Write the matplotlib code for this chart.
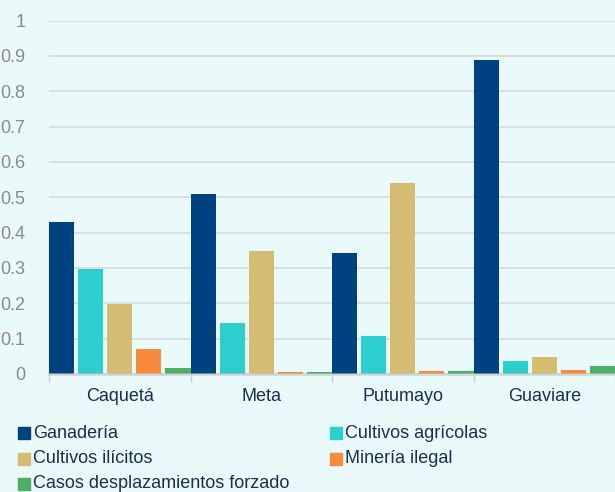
import numpy as np
import matplotlib
matplotlib.use('Agg')
import matplotlib.pyplot as plt
from matplotlib import patches

regiones = ['Caquetá', 'Meta', 'Putumayo', 'Guaviare']
series = ['Ganadería', 'Cultivos agrícolas', 'Cultivos ilícitos',
          'Minería ilegal', 'Casos desplazamientos forzado']

ganaderia = [0.43, 0.51, 0.343, 0.889]
cultivos_agricolas = [0.297, 0.145, 0.107, 0.036]
cultivos_ilicitos = [0.198, 0.348, 0.541, 0.049]
mineria_ilegal = [0.071, 0.006, 0.009, 0.012]
desplazamientos = [0.016, 0.006, 0.009, 0.022]

valores = [ganaderia, cultivos_agricolas, cultivos_ilicitos,
           mineria_ilegal, desplazamientos]
colores = ['#00427F', '#2DCECE', '#D5BC73', '#F68B3D', '#4DAE65']

bg = '#EAF9FA'
plt.rcParams['font.family'] = ['Liberation Sans', 'DejaVu Sans']

W, H, dpi = 615, 492, 100.0
fig = plt.figure(figsize=(W/dpi, H/dpi), dpi=dpi, facecolor=bg)
ax = fig.add_axes([49/W, 1-374/H, 1-49/W, (374-20.5)/H])
ax.set_facecolor(bg)

x = np.arange(len(regiones))
paso, ancho = 0.205, 0.18
for k, (vals, col) in enumerate(zip(valores, colores)):
    ax.bar(x + k*paso, vals, width=ancho, align='edge', color=col,
           zorder=2)

ax.set_xlim(0, len(regiones))
ax.set_ylim(0, 1)
ax.set_yticks(np.arange(0, 1.01, 0.1))
ax.set_yticklabels(['0'] + ['%.1f' % v for v in np.arange(0.1, 0.95, 0.1)] + ['1'])
ax.yaxis.grid(True, color='#D8DCDC', linewidth=1.3, zorder=1)
ax.tick_params(axis='y', length=0, pad=17, labelsize=13, labelcolor='#8A8A8A')

# category boundaries as ticks, labels in the middle
ax.set_xticks(np.arange(0, len(regiones)+1))
ax.set_xticklabels([])
ax.set_xticks(x + 0.5, minor=True)
ax.set_xticklabels(regiones, minor=True)
ax.tick_params(axis='x', which='major', length=6, color='#C8CCCC', width=1)
ax.tick_params(axis='x', which='minor', length=0, pad=10, labelsize=13,
               labelcolor='#1F2D4D')

for s in ax.spines.values():
    s.set_visible(False)
ax.axhline(0, color='#BFC4C4', linewidth=2, alpha=0.6, zorder=3,
           clip_on=False)

# legend, two columns
for i, (nombre, col) in enumerate(zip(series, colores)):
    c, r = i % 2, i // 2
    x0 = 18 + 312*c
    y0 = 433 + 25.5*r
    fig.patches.append(patches.Rectangle((x0/W, 1-(y0+6)/H), 12/W, 12/H,
                                         transform=fig.transFigure,
                                         color=col, figure=fig))
    fig.text((x0+15)/W, 1-y0/H, nombre, fontsize=13, color='#1F2D4D',
             va='center', ha='left')

fig.savefig('out.png', dpi=dpi, facecolor=bg)
plt.close(fig)
